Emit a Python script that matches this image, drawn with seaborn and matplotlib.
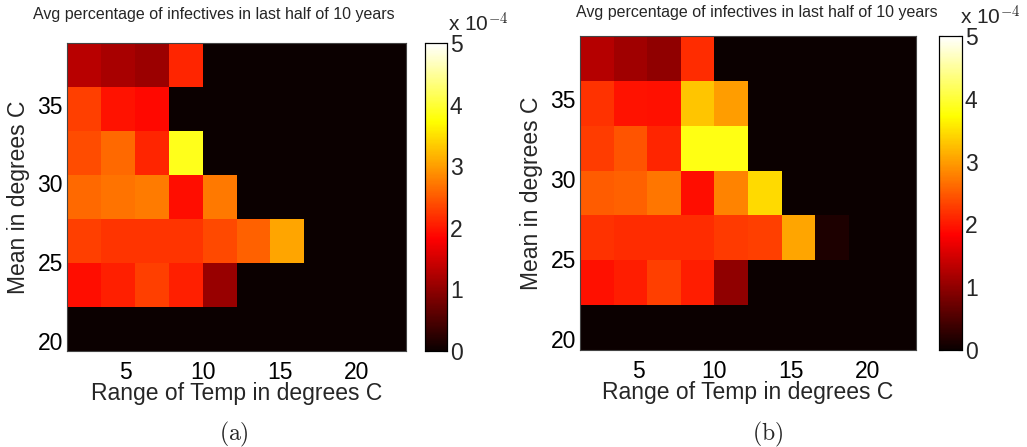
import numpy as np
import matplotlib
matplotlib.use("Agg")
import matplotlib.pyplot as plt
import seaborn as sns

# ---- data ----
range_temp = [2.3, 4.5, 6.7, 9.0, 11.2, 13.4, 15.6, 17.8, 20.0, 22.2]   # column centres
mean_temp = [37.7, 34.9, 32.2, 29.4, 26.6, 23.9, 21.1]                  # row centres (top -> bottom)
x_ticks = [5, 10, 15, 20]
y_ticks = [20, 25, 30, 35]
cbar_ticks = [0, 1, 2, 3, 4, 5]
scale = 1e-4

values_a = [
    [1.30, 1.18, 1.08, 2.10, 0, 0, 0, 0, 0, 0],
    [2.30, 1.97, 1.88, 0, 0, 0, 0, 0, 0, 0],
    [2.40, 2.60, 2.10, 3.86, 0, 0, 0, 0, 0, 0],
    [2.60, 2.68, 2.75, 1.92, 2.72, 0, 0, 0, 0, 0],
    [2.30, 2.22, 2.22, 2.22, 2.38, 2.55, 3.06, 0, 0, 0],
    [1.92, 2.07, 2.30, 2.07, 1.06, 0, 0, 0, 0, 0],
    [0, 0, 0, 0, 0, 0, 0, 0, 0, 0],
]
values_b = [
    [1.28, 1.13, 1.00, 2.15, 0, 0, 0, 0, 0, 0],
    [2.20, 1.97, 1.95, 3.30, 3.00, 0, 0, 0, 0, 0],
    [2.27, 2.45, 2.10, 3.82, 3.82, 0, 0, 0, 0, 0],
    [2.50, 2.55, 2.70, 1.92, 2.80, 3.45, 0, 0, 0, 0],
    [2.20, 2.15, 2.15, 2.15, 2.25, 2.30, 3.05, 0.15, 0, 0],
    [1.95, 2.05, 2.30, 2.05, 1.00, 0, 0, 0, 0, 0],
    [0, 0, 0, 0, 0, 0, 0, 0, 0, 0],
]
title = "Avg percentage of infectives in last half of 10 years"
xlabel = "Range of Temp in degrees C"
ylabel = "Mean in degrees C"
panel_labels = ["(a)", "(b)"]

# ---- style ----
sns.set_style("white")
plt.rcParams["font.family"] = ["Liberation Sans", "DejaVu Sans"]
plt.rcParams["mathtext.fontset"] = "cm"

W, H = 1027, 447
fig = plt.figure(figsize=(W / 100, H / 100), dpi=100)

def px(l, t, r, b):
    return [l / W, (H - b) / H, (r - l) / W, (b - t) / H]

layouts = [
    dict(ax=px(67, 43, 406, 351), cax=px(425, 43, 447, 351), title_x=214, title_y=14,
         exp=(448, 32), lab=(234, 434)),
    dict(ax=px(580, 36, 916, 350), cax=px(939, 36, 962, 350), title_x=757, title_y=12,
         exp=(960, 25), lab=(768, 434)),
]

dx = range_temp[1] - range_temp[0]
dy = mean_temp[0] - mean_temp[1]
FS = 16.5

for vals, lay, plab in zip([values_a, values_b], layouts, panel_labels):
    ax = fig.add_axes(lay["ax"])
    cax = fig.add_axes(lay["cax"])
    data = np.array(vals) * scale
    sns.heatmap(data, ax=ax, cbar_ax=cax, cmap="hot", vmin=0, vmax=5 * scale,
                square=False, linewidths=0)
    ax.set_xticks([(v - range_temp[0]) / dx + 0.5 for v in x_ticks])
    ax.set_xticklabels([str(v) for v in x_ticks], rotation=0, fontsize=FS)
    ax.set_yticks([(mean_temp[0] - v) / dy + 0.5 for v in y_ticks])
    ax.set_yticklabels([str(v) for v in y_ticks], rotation=0, fontsize=FS)
    ax.tick_params(direction="in", length=4, colors="black")
    ax.tick_params(axis="x", pad=7)
    ax.tick_params(axis="y", pad=3)
    for s in ax.spines.values():
        s.set_visible(True)
        s.set_color("#444444")
        s.set_linewidth(0.8)
    ax.set_xlabel(xlabel, fontsize=FS, labelpad=-1)
    ax.set_ylabel(ylabel, fontsize=FS, labelpad=5)
    fig.text(lay["title_x"] / W, 1 - lay["title_y"] / H, title, ha="center", va="center",
             fontsize=11.5)
    cax.set_yticks([t * scale for t in cbar_ticks])
    cax.set_yticklabels([str(t) for t in cbar_ticks], fontsize=FS)
    cax.tick_params(direction="in", length=3, pad=2, right=True, left=True, labelleft=False)
    for s in cax.spines.values():
        s.set_visible(True)
        s.set_color("black")
        s.set_linewidth(0.8)
    fig.text(lay["exp"][0] / W, 1 - lay["exp"][1] / H, r"x 10$^{-4}$", ha="left",
             va="baseline", fontsize=15)
    fig.text(lay["lab"][0] / W, 1 - lay["lab"][1] / H, r"$\mathrm{" + plab + "}$",
             ha="center", va="center", fontsize=17)

fig.savefig("out.png", dpi=100)
